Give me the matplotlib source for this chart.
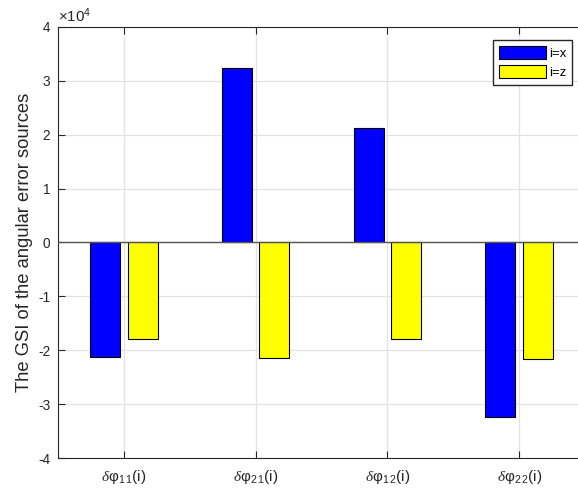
import numpy as np
import matplotlib
matplotlib.use('Agg')
import matplotlib.pyplot as plt
from matplotlib.ticker import FuncFormatter

plt.rcParams['font.family'] = ['Liberation Sans', 'DejaVu Sans']
plt.rcParams['mathtext.fontset'] = 'custom'
plt.rcParams['mathtext.rm'] = 'Liberation Sans'
plt.rcParams['mathtext.it'] = 'Liberation Serif:italic'
plt.rcParams['axes.unicode_minus'] = False

# GSI values of the angular error sources
sources = [r'$\it{\delta}$φ$_{1\,1}$(i)', r'$\it{\delta}$φ$_{2\,1}$(i)',
           r'$\it{\delta}$φ$_{1\,2}$(i)', r'$\it{\delta}$φ$_{2\,2}$(i)']
gsi_x = [-2.12e4, 3.23e4, 2.12e4, -3.23e4]
gsi_z = [-1.79e4, -2.15e4, -1.79e4, -2.17e4]
series_names = ['i=x', 'i=z']
yticks = [-4e4, -3e4, -2e4, -1e4, 0, 1e4, 2e4, 3e4, 4e4]

fig = plt.figure(figsize=(5.78, 4.94), dpi=100)
ax = fig.add_axes([58 / 578, 36 / 494, 527 / 578, 431 / 494])

pos = np.arange(1, len(sources) + 1)
w = 0.228
off = 0.143
ax.bar(pos - off, gsi_x, w, color='#0000ff', edgecolor='k', linewidth=0.8,
       label=series_names[0], zorder=3)
ax.bar(pos + off, gsi_z, w, color='#ffff00', edgecolor='k', linewidth=0.8,
       label=series_names[1], zorder=3)
ax.axhline(0, color='#555555', linewidth=1.0, zorder=4)

ax.set_xlim(0.5, 4.5)
ax.set_ylim(-4e4, 4e4)
ax.set_xticks(pos)
ax.set_xticklabels(sources)
ax.set_yticks(yticks)
ax.yaxis.set_major_formatter(FuncFormatter(lambda v, p: '%g' % (v / 1e4)))
ax.tick_params(direction='in', length=5, width=0.8, colors='#262626',
               top=True)
ax.tick_params(axis='y', labelsize=9.8, pad=5.5)
ax.tick_params(axis='x', labelsize=11, pad=7)
ax.grid(True, color='#e3e3e3', linewidth=0.9, zorder=0)
ax.set_axisbelow(True)
for s in ax.spines.values():
    s.set_color('#262626')
    s.set_linewidth(0.8)

ax.set_ylabel('The GSI of the angular error sources', fontsize=13.2,
              color='#262626', labelpad=4)
fig.text(58 / 578, 1 - 22 / 494, r'$\times\mathregular{10^{4}}$', fontsize=10.8,
         color='#262626', ha='left', va='baseline')

ax.legend(loc='upper right', bbox_to_anchor=(572 / 578, 1 - 40 / 494),
          bbox_transform=fig.transFigure, fontsize=9.5, fancybox=False,
          edgecolor='#262626', framealpha=1, handlelength=3.6,
          handleheight=1.15, handletextpad=0.2, borderpad=0.45,
          labelspacing=0.4, borderaxespad=0)

fig.savefig('out.png', dpi=100)
